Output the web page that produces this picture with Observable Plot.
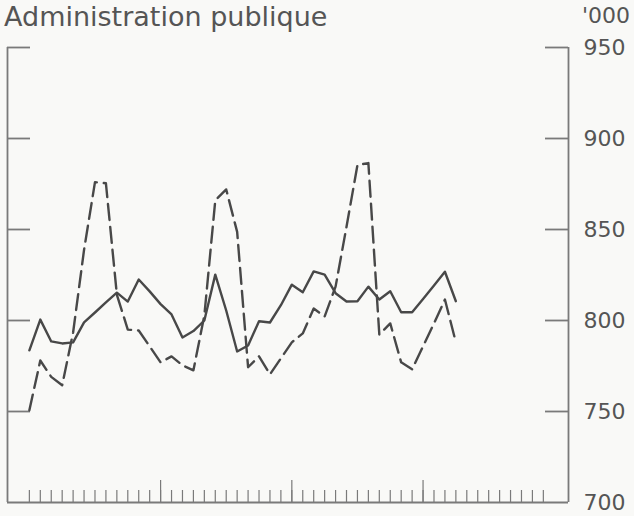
<!DOCTYPE html>
<html>
<head>
<meta charset="utf-8">
<script src="https://cdn.jsdelivr.net/npm/d3@7"></script>
<script src="https://cdn.jsdelivr.net/npm/@observablehq/plot@0.6"></script>
<style>
  html, body { margin: 0; padding: 0; background: #f9f9f7; }
  #wrap { position: relative; width: 634px; height: 516px; overflow: hidden; }
  .lbl { position: absolute; font-family: "DejaVu Sans", sans-serif; color: #555; white-space: nowrap; line-height: 1; }
  #title { left: 4px; top: 3px; font-size: 27px; }
  #unit { left: 582px; top: 5px; font-size: 22px; }
</style>
</head>
<body>
<div id="wrap">
  <div id="title" class="lbl">Administration publique</div>
  <div id="unit" class="lbl">'000</div>
</div>
<script>
// Monthly values, thousands
const seasonallyAdjusted = [
  783.6, 800.5, 788.5, 787.4, 788.0, 799.0, 804.4, 810.0, 815.3, 810.4,
  822.5, 816.0, 809.0, 803.3, 790.7, 794.2, 800.0, 825.2, 805.5, 783.0,
  786.3, 799.6, 798.9, 808.4, 819.7, 815.5, 827.0, 825.2, 815.0, 810.4,
  810.6, 818.6, 811.5, 816.1, 804.5, 804.5, 811.8, 819.2, 826.8, 810.6
];
const raw = [
  750.7, 778.0, 769.0, 764.4, 793.4, 838.8, 876.0, 875.4, 814.2, 795.0,
  794.5, 785.8, 777.0, 780.3, 775.4, 772.6, 802.7, 866.0, 872.0, 848.7,
  774.3, 780.3, 770.4, 779.2, 788.0, 792.9, 806.6, 802.2, 818.6, 851.5,
  885.4, 886.5, 792.3, 798.4, 777.0, 773.2, 785.8, 798.4, 811.5, 788.0
];
const yTicks = [700, 750, 800, 850, 900, 950];
const monthTicks = d3.range(48);
const yearTicks = [12, 24, 36];
const xDomain = [-2, 49.3];

const rows = [
  ...seasonallyAdjusted.map((v, i) => ({month: i, value: v, series: "sa"})),
  ...raw.map((v, i) => ({month: i, value: v, series: "raw"}))
];

const W = 634, H = 516, mL = 7, mR = 66, mT = 47, mB = 14;
const fw = W - mL - mR, fh = H - mT - mB;
const axisColor = "#7a7a7a";
const lineColor = "#484848";

const chart = Plot.plot({
  width: W, height: H,
  marginLeft: mL, marginRight: mR, marginTop: mT, marginBottom: mB,
  style: {background: "transparent", fontFamily: "DejaVu Sans, sans-serif", fontSize: "22px", color: "#555"},
  x: {domain: xDomain, axis: null},
  y: {domain: [700, 950], axis: null},
  marks: [
    // frame: left, right, bottom
    Plot.ruleX(xDomain, {stroke: axisColor, strokeWidth: 1.8}),
    Plot.ruleY([700], {stroke: axisColor, strokeWidth: 1.8}),
    // inward y ticks on both sides
    Plot.ruleY(yTicks.slice(1), {stroke: axisColor, strokeWidth: 1.8, insetRight: fw - 23}),
    Plot.ruleY(yTicks.slice(1), {stroke: axisColor, strokeWidth: 1.8, insetLeft: fw - 23}),
    // monthly ticks and yearly ticks at bottom
    Plot.ruleX(monthTicks, {stroke: axisColor, strokeWidth: 1.2, insetTop: fh - 12}),
    Plot.ruleX(yearTicks, {stroke: axisColor, strokeWidth: 1.2, insetTop: fh - 22}),
    // right axis labels
    Plot.axisY(yTicks, {anchor: "right", tickSize: 0, tickPadding: 15, fill: "#555", fontSize: 22, label: null}),
    // data
    Plot.line(rows.filter(d => d.series === "raw"), {x: "month", y: "value", stroke: lineColor, strokeWidth: 2.4, strokeDasharray: "16,7"}),
    Plot.line(rows.filter(d => d.series === "sa"), {x: "month", y: "value", stroke: lineColor, strokeWidth: 2.4})
  ]
});
document.getElementById("wrap").prepend(chart);
chart.style.position = "absolute";
chart.style.left = "0px";
chart.style.top = "0px";
</script>
</body>
</html>
